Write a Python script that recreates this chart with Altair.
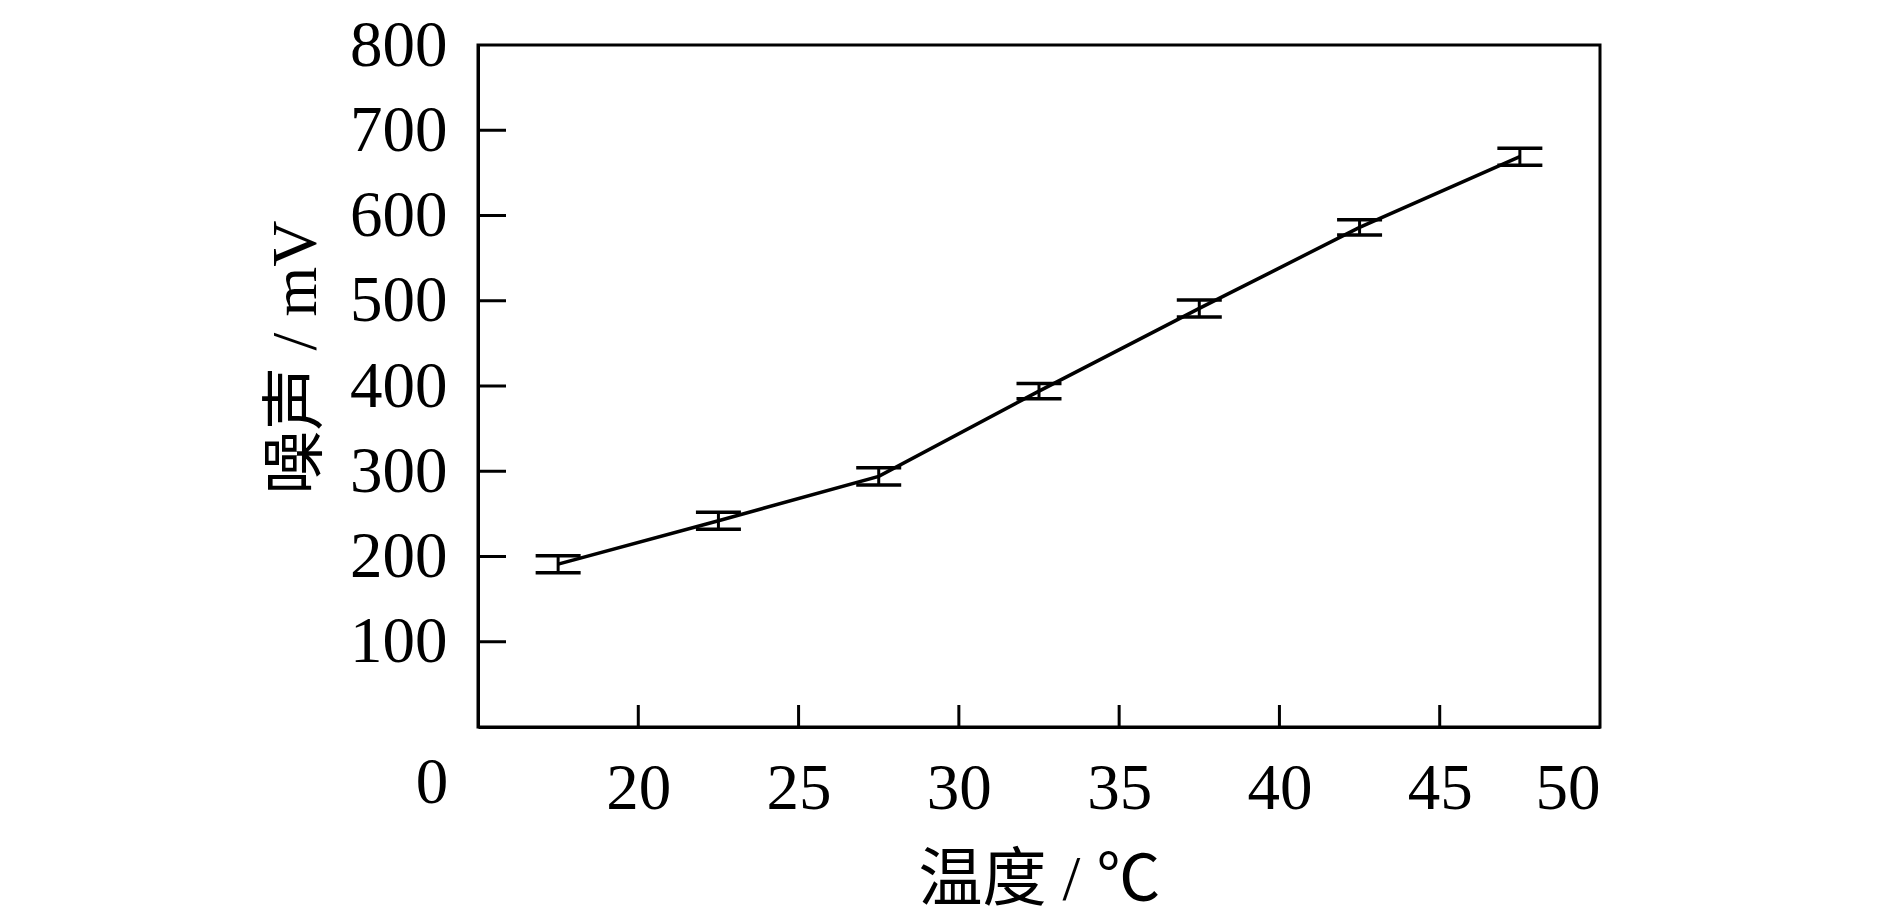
import altair as alt
import pandas as pd

temps = [17.5, 22.5, 27.5, 32.5, 37.5, 42.5, 47.5]
noise = [191, 242, 294, 394, 491, 586, 669]
errs = [10, 10, 10, 9, 10, 9, 10]

y_tick_vals = [100, 200, 300, 400, 500, 600, 700]
y_label_vals = [100, 200, 300, 400, 500, 600, 700, 800]
x_tick_vals = [20, 25, 30, 35, 40, 45]
x_label_vals = [20, 25, 30, 35, 40, 45, 50]

W, H = 1122, 682
SERIF = "Liberation Serif, Noto Sans CJK SC"
YTITLE = "噪声 / mV"
XTITLE = "温度 / ℃"

df = pd.DataFrame({"t": temps, "v": noise, "e": errs})
xt = pd.DataFrame({"t": x_tick_vals})
yt = pd.DataFrame({"v": y_tick_vals})

xscale = alt.Scale(domain=[15, 50], nice=False, zero=False)
yscale = alt.Scale(domain=[0, 800], nice=False)

xaxis = alt.Axis(values=x_label_vals, title=XTITLE, labelPadding=30,
                 titleX=W / 2, titleY=172, titleBaseline="alphabetic")
yaxis = alt.Axis(values=y_label_vals, title=YTITLE, labelPadding=31,
                 titleX=-163, titleY=312, titleBaseline="alphabetic", titleAngle=270)

line = alt.Chart(df).mark_line(color="black", strokeWidth=3.5).encode(
    x=alt.X("t:Q", scale=xscale, axis=xaxis, title=XTITLE),
    y=alt.Y("v:Q", scale=yscale, axis=yaxis, title=YTITLE),
)

ebar = alt.Chart(df).mark_errorbar(
    color="black", opacity=1,
    ticks={"size": 45, "thickness": 3.5, "color": "black", "opacity": 1},
    rule={"strokeWidth": 3, "color": "black", "opacity": 1},
).encode(
    x=alt.X("t:Q", scale=xscale, title=XTITLE),
    y=alt.Y("v:Q", scale=yscale, title=YTITLE),
    yError="e:Q",
)

xticks = alt.Chart(xt).mark_rule(color="black", strokeWidth=3).encode(
    x=alt.X("t:Q", scale=xscale, title=XTITLE),
    y=alt.value(H),
    y2=alt.value(H - 22),
)

yticks = alt.Chart(yt).mark_rule(color="black", strokeWidth=3).encode(
    y=alt.Y("v:Q", scale=yscale, title=YTITLE),
    x=alt.value(0),
    x2=alt.value(28),
)

origin = alt.Chart(pd.DataFrame({"lab": ["0"]})).mark_text(
    font="Liberation Serif", fontSize=65, color="black", baseline="alphabetic", align="center"
).encode(
    text="lab:N",
    x=alt.value(-46),
    y=alt.value(H + 76),
)

chart = alt.layer(line, ebar, xticks, yticks, origin).properties(
    width=W, height=H,
    autosize=alt.AutoSizeParams(type="none"),
    padding={"left": 470, "top": 37, "right": 200, "bottom": 186},
    background="white",
).configure_view(
    stroke="black", strokeWidth=3
).configure_axis(
    labelFont="Liberation Serif", labelFontSize=65, labelColor="black",
    titleFont=SERIF, titleFontSize=64, titleColor="black", titleFontWeight="normal",
    domainColor="black", domainWidth=3, ticks=False, grid=False,
)

chart.save("out.html", embed_options={"renderer": "svg", "actions": False})
